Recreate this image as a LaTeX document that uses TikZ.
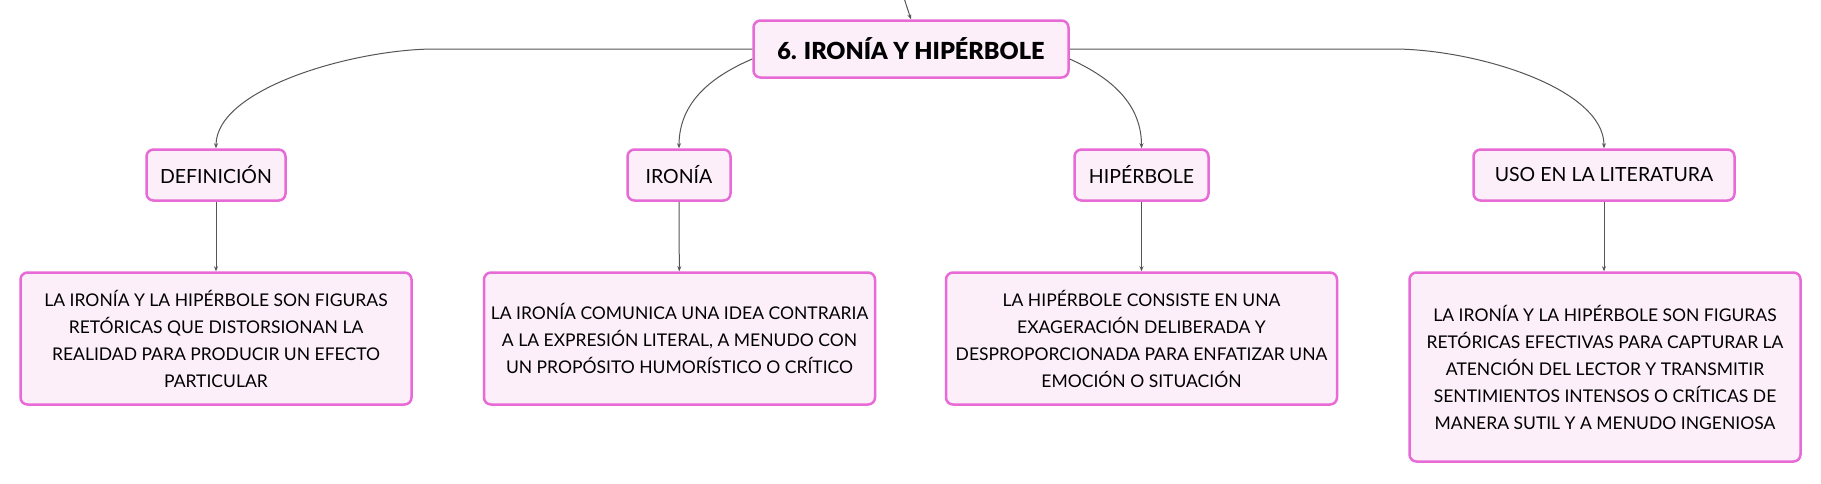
\documentclass[tikz,border=0pt]{standalone}
\usepackage{fontspec}
\setmainfont{Lato}
\newfontfamily\titlefont{Lato Black}
\usetikzlibrary{arrows.meta,calc}
\definecolor{pinkb}{HTML}{E86AD6}
\definecolor{pinkf}{HTML}{FCEFFA}
\definecolor{linec}{HTML}{555555}
\tikzset{
  box/.style={draw=pinkb, fill=pinkf, line width=2.5pt, rounded corners=7pt, inner sep=0pt, align=center, text=black},
  titlebox/.style={box, minimum width=315pt, minimum height=57pt, font=\fontsize{23.5}{28}\titlefont},
  labelbox/.style={box, minimum height=51pt, font=\fontsize{19.5}{24}\selectfont},
  textbox/.style={box, minimum width=391pt, font=\fontsize{17.5}{27}\selectfont},
  conn/.style={draw=linec, line width=1pt, -{Stealth[length=5pt,width=4pt]}},
}
\begin{document}
\begin{tikzpicture}[x=1pt,y=-1pt]
\fill[white] (0,0) rectangle (1821,483);
\useasboundingbox (0,0) rectangle (1821,483);

\node[titlebox] (title) at (911,49) {6. IRONÍA Y HIPÉRBOLE};

\node[labelbox, minimum width=139pt] (def) at (216,175) {DEFINICIÓN};
\node[labelbox, minimum width=103pt] (iro) at (679,175) {IRONÍA};
\node[labelbox, minimum width=134pt] (hip) at (1141.5,175) {HIPÉRBOLE};
\node[labelbox, minimum width=261pt] (uso) at (1604,175) {USO EN LA LITERATURA};

\node[textbox, minimum height=132pt] (t1) at (216,338.5) {LA IRONÍA Y LA HIPÉRBOLE SON FIGURAS\\RETÓRICAS QUE DISTORSIONAN LA\\REALIDAD PARA PRODUCIR UN EFECTO\\PARTICULAR};
\node[textbox, minimum height=132pt] (t2) at (679.5,338.5) {LA IRONÍA COMUNICA UNA IDEA CONTRARIA\\A LA EXPRESIÓN LITERAL, A MENUDO CON\\UN PROPÓSITO HUMORÍSTICO O CRÍTICO};
\node[textbox, minimum height=132pt] (t3) at (1141.5,338.5) {LA HIPÉRBOLE CONSISTE EN UNA\\EXAGERACIÓN DELIBERADA Y\\DESPROPORCIONADA PARA ENFATIZAR UNA\\EMOCIÓN O SITUACIÓN};
\node[textbox, minimum height=189pt] (t4) at (1605,367) {LA IRONÍA Y LA HIPÉRBOLE SON FIGURAS\\RETÓRICAS EFECTIVAS PARA CAPTURAR LA\\ATENCIÓN DEL LECTOR Y TRANSMITIR\\SENTIMIENTOS INTENSOS O CRÍTICAS DE\\MANERA SUTIL Y A MENUDO INGENIOSA};

% connectors
\coordinate (topin) at (904,-2);
\coordinate (lbend) at (435,49);
\coordinate (rbend) at (1393,49);
\coordinate (tl) at ($(title.west)+(0,10)$);
\coordinate (tr) at ($(title.east)+(0,10)$);

\draw[conn] (topin) .. controls (907,8) .. (title.north);
\draw[conn] (title.west) -- (lbend) .. controls (355,49) and (216,88) .. (def.north);
\draw[conn] (tl) .. controls (715,75) and (679,100) .. (iro.north);
\draw[conn] (tr) .. controls (1105,75) and (1141.5,100) .. (hip.north);
\draw[conn] (title.east) -- (rbend) .. controls (1475,49) and (1604,88) .. (uso.north);

\draw[conn] (def) -- (t1);
\draw[conn] (iro) -- (t2);
\draw[conn] (hip) -- (t3);
\draw[conn] (uso.south) -- (uso.south |- t4.north);
\end{tikzpicture}
\end{document}
